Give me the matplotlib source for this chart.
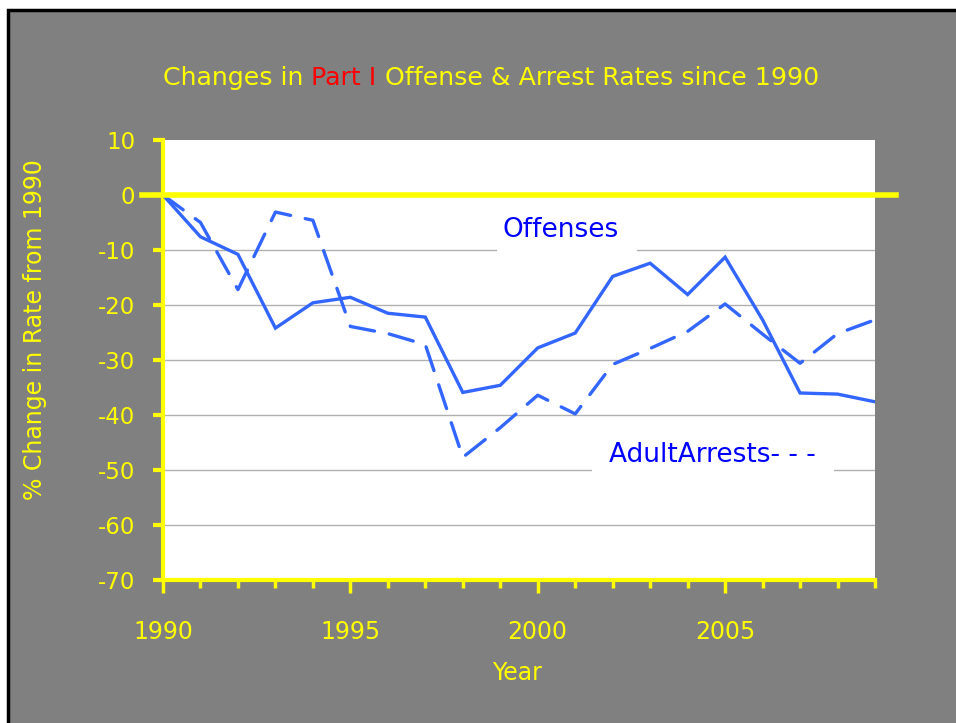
import matplotlib
matplotlib.use('Agg')
import matplotlib.pyplot as plt
from matplotlib.patches import Rectangle

years = list(range(1990, 2010))
offenses = [0, -7.6, -10.8, -24.2, -19.6, -18.6, -21.5, -22.2, -35.9, -34.6,
            -27.8, -25.1, -14.8, -12.4, -18.1, -11.3, -22.7, -36.0, -36.2, -37.6]
adult_arrests = [0, -5.0, -17.2, -3.1, -4.6, -23.9, -25.2, -27.2, -47.7, -42.3,
                 -36.4, -39.8, -30.8, -27.9, -24.8, -19.8, -25.3, -30.6, -25.2, -22.7]
yticks = list(range(-70, 11, 10))
xtick_labels = [1990, 1995, 2000, 2005]

YELLOW = '#ffff00'
GRAY = '#808080'
LINE = '#3366ff'

plt.rcParams['font.family'] = ['DejaVu Sans']
plt.rcParams['axes.unicode_minus'] = False

fig = plt.figure(figsize=(9.56, 7.23), dpi=100, facecolor='white')
# slide background with black border
fig.patches.append(Rectangle((8 / 956, -0.01), 1.0, 1 - 10 / 723 + 0.01,
                             transform=fig.transFigure, facecolor=GRAY,
                             edgecolor='black', linewidth=2.5, zorder=-10))

ax = fig.add_axes([163 / 956, 1 - 580 / 723, (875 - 163) / 956, (580 - 140) / 723])
ax.set_facecolor('white')

ax.plot(years, offenses, color=LINE, linewidth=2.4, solid_joinstyle='miter', zorder=3)
ax.plot(years, adult_arrests, color=LINE, linewidth=2.4, dashes=(7.5, 4.5),
        dash_capstyle='round', zorder=3)

ax.set_xlim(1990, 2009)
ax.set_ylim(-70, 10)
ax.set_yticks(yticks)
ax.set_xticks(xtick_labels)
ax.set_xticks(years, minor=True)

for v in yticks:
    if v not in (0, 10, -70):
        ax.axhline(v, color='#b0b0b0', linewidth=1, zorder=1)
ax.axhline(0, xmin=-0.03, xmax=1.03, color=YELLOW, linewidth=4, clip_on=False, zorder=4)

for s in ['top', 'right']:
    ax.spines[s].set_visible(False)
for s in ['left', 'bottom']:
    ax.spines[s].set_color(YELLOW)
    ax.spines[s].set_linewidth(3)

ax.tick_params(axis='y', colors=YELLOW, labelsize=16.5, length=7, width=3, pad=13)
ax.tick_params(axis='x', which='major', colors=YELLOW, labelsize=17, length=9, width=2.5, pad=20)
ax.tick_params(axis='x', which='minor', colors=YELLOW, length=6, width=2.5)

fig.text(517 / 956, 1 - 673 / 723, 'Year', color=YELLOW, fontsize=17, ha='center', va='center')
fig.text(35 / 956, 1 - 330 / 723, '% Change in Rate from 1990', color=YELLOW, fontsize=17,
         rotation=90, ha='center', va='center')

# title with red "Part I"
ty = 1 - 78 / 723
t1 = fig.text(163 / 956, ty, 'Changes in ', color=YELLOW, fontsize=18.2, va='center')
fig.canvas.draw()
r = fig.canvas.get_renderer()
bb = t1.get_window_extent(r)
t2 = fig.text(bb.x1 / fig.bbox.width, ty, 'Part I', color='#ff0000', fontsize=18.2, va='center')
bb2 = t2.get_window_extent(r)
fig.text(bb2.x1 / fig.bbox.width, ty, ' Offense & Arrest Rates since 1990',
         color=YELLOW, fontsize=18.2, va='center')

# white label boxes covering the gridlines
ax.add_patch(Rectangle((1998.91, -13.5), 3.74, 9.0, facecolor='white', edgecolor='none', zorder=2))
ax.add_patch(Rectangle((2001.45, -52.5), 6.46, 10.5, facecolor='white', edgecolor='none', zorder=2))
ax.text(2000.6, -6.4, 'Offenses', color='#0000ff', fontsize=19, ha='center', va='center', zorder=5)
ax.text(2004.65, -47.3, 'AdultArrests- - -', color='#0000ff', fontsize=19, ha='center',
        va='center', zorder=5)

fig.savefig('out.png', dpi=100, facecolor='white')
